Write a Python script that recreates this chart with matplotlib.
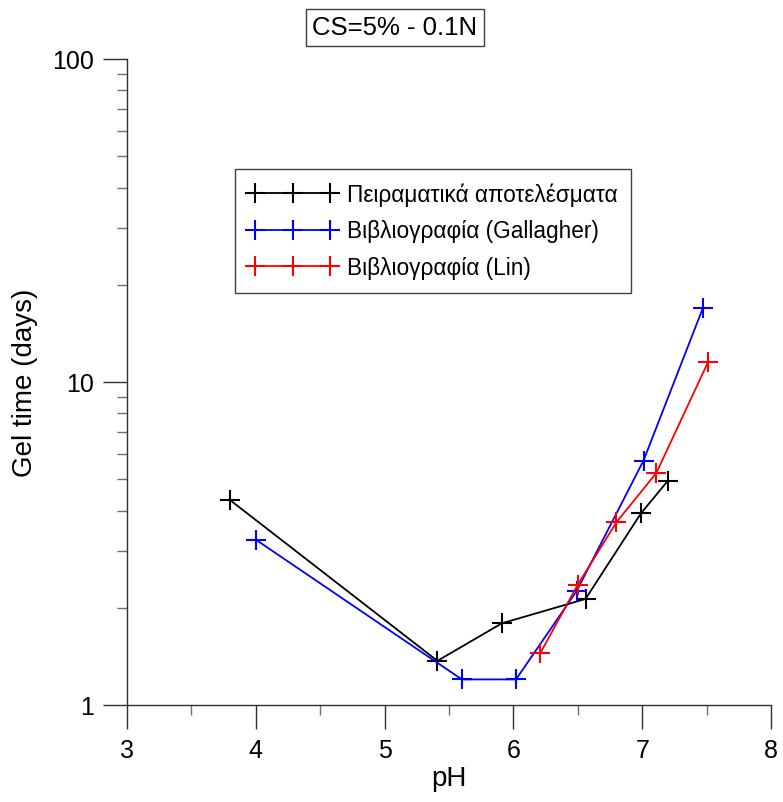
import matplotlib
matplotlib.use('Agg')
import matplotlib.pyplot as plt
from matplotlib.ticker import FixedLocator, NullFormatter

plt.rcParams['font.family'] = ['Liberation Sans', 'DejaVu Sans']

# data
ph_exp = [3.80, 5.41, 5.91, 6.56, 6.99, 7.20]
gel_exp = [4.31, 1.37, 1.79, 2.13, 3.92, 4.95]

ph_gal = [4.00, 5.60, 6.02, 6.49, 7.01, 7.47]
gel_gal = [3.25, 1.20, 1.20, 2.25, 5.71, 16.9]

ph_lin = [6.21, 6.50, 6.80, 7.11, 7.51]
gel_lin = [1.45, 2.36, 3.68, 5.23, 11.5]

labels = ['Πειραματικά αποτελέσματα', 'Βιβλιογραφία (Gallagher)', 'Βιβλιογραφία (Lin)']
title = 'CS=5% - 0.1N'

fig = plt.figure(figsize=(7.83, 8.03), dpi=100)
ax = fig.add_axes([0.1622, 0.1208, 0.8225, 0.8045])

ms = 15
mew = 1.5
lw = 1.3
ax.plot(ph_exp, gel_exp, color='black', marker='+', ms=ms, mew=mew, lw=lw, label=labels[0])
ax.plot(ph_gal, gel_gal, color='blue', marker='+', ms=ms, mew=mew, lw=lw, label=labels[1])
ax.plot(ph_lin, gel_lin, color='red', marker='+', ms=ms, mew=mew, lw=lw, label=labels[2])

ax.set_yscale('log')
ax.set_ylim(1, 100)
ax.set_xlim(3, 8)
ax.set_xticks([3, 4, 5, 6, 7, 8])
ax.xaxis.set_minor_locator(FixedLocator([3.5, 4.5, 5.5, 6.5, 7.5]))
ax.set_yticks([1, 10, 100])
ax.set_yticklabels(['1', '10', '100'])
ax.yaxis.set_minor_locator(FixedLocator([k * 10 ** e for e in (0, 1) for k in range(2, 10)]))
ax.yaxis.set_minor_formatter(NullFormatter())

for s in ['top', 'right']:
    ax.spines[s].set_visible(False)
for s in ['left', 'bottom']:
    ax.spines[s].set_color('#303030')
    ax.spines[s].set_linewidth(1.0)

ax.tick_params(which='major', direction='out', length=17, width=1.0, color='#303030',
               labelsize=18, pad=7)
ax.tick_params(which='minor', direction='out', length=7.5, width=1.0, color='#707070')

ax.set_xlabel('pH', fontsize=20, labelpad=2)
ax.set_ylabel('Gel time (days)', fontsize=20, labelpad=10)

leg = ax.legend(loc='upper left', bbox_to_anchor=(0.1677, 0.830), borderaxespad=0,
                fontsize=16.3, numpoints=3, handlelength=3.9, handletextpad=0.45,
                fancybox=False, framealpha=1, edgecolor='#404040',
                borderpad=0.6, labelspacing=0.6)
leg.get_frame().set_linewidth(1.0)

fig.text(0.5045, 0.965, title, fontsize=18.5, ha='center', va='center',
         bbox=dict(boxstyle='square,pad=0.25', fc='white', ec='#404040', lw=1.0))

fig.savefig('out.png', dpi=100)
